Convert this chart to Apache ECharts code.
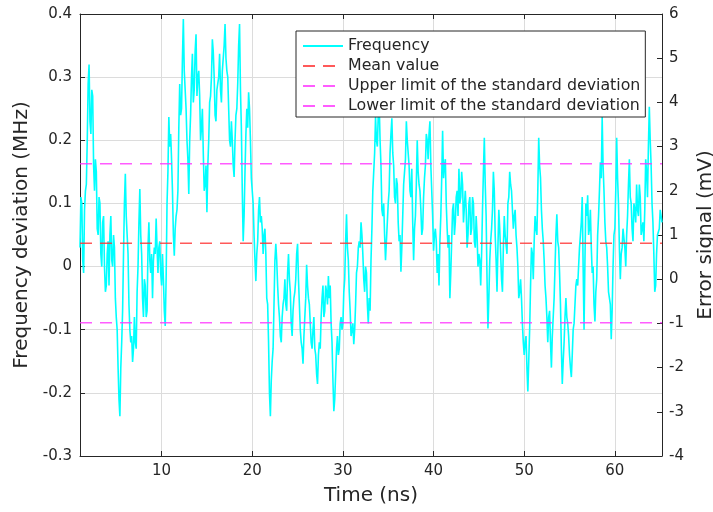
<!DOCTYPE html>
<html>
<head>
<meta charset="utf-8">
<script src="https://cdn.jsdelivr.net/npm/echarts@6/dist/echarts.min.js"></script>
<style>
html,body{margin:0;padding:0;background:#fff;}
#chart{width:713px;height:512px;}
</style>
</head>
<body>
<div id="chart"></div>
<script>
// ---- data ----
const timeStart = 1.0;      // ns, first sample
const timeStep = 0.1;       // ns, sample spacing
const timeMin = 1.0;
const timeMax = 65.2;
const freqValues = [
  0.03, 0.11, 0.10, 0.01, -0.01, 0.09, 0.12, 0.13, 0.20, 0.29, 0.32, 0.23, 0.21, 0.28, 0.27, 0.16, 0.12, 0.17, 0.15, 0.06,
  0.05, 0.11, 0.10, 0.02, 0.00, 0.07, 0.08, 0.00, -0.04, -0.03, 0.02, 0.04, -0.03, 0.05, 0.08, 0.01, 0.00, 0.05, 0.03, -0.05,
  -0.08, -0.10, -0.16, -0.21, -0.237, -0.16, -0.12, -0.07, 0.02, 0.10, 0.147, 0.08, 0.05, 0.02, -0.06, -0.10, -0.12, -0.11, -0.151, -0.13,
  -0.08, -0.12, -0.13, -0.04, 0.00, 0.07, 0.123, 0.05, 0.02, -0.05, -0.08, -0.02, -0.03, -0.08, -0.07, 0.03, 0.07, 0.01, -0.01, 0.02,
  -0.05, 0.01, 0.03, 0.02, 0.076, 0.03, -0.01, 0.03, 0.04, -0.01, -0.03, 0.02, -0.02, -0.07, -0.094, -0.02, 0.10, 0.15, 0.237, 0.19,
  0.21, 0.17, 0.12, 0.05, 0.017, 0.06, 0.08, 0.09, 0.12, 0.22, 0.289, 0.24, 0.25, 0.33, 0.392, 0.31, 0.28, 0.25, 0.20, 0.17,
  0.115, 0.20, 0.24, 0.30, 0.337, 0.26, 0.28, 0.34, 0.368, 0.27, 0.30, 0.31, 0.27, 0.20, 0.22, 0.25, 0.18, 0.12, 0.13, 0.16,
  0.086, 0.16, 0.20, 0.26, 0.27, 0.30, 0.36, 0.34, 0.30, 0.24, 0.23, 0.28, 0.29, 0.30, 0.337, 0.28, 0.26, 0.31, 0.33, 0.35,
  0.384, 0.33, 0.31, 0.30, 0.25, 0.20, 0.19, 0.23, 0.20, 0.16, 0.142, 0.20, 0.24, 0.25, 0.29, 0.35, 0.384, 0.28, 0.22, 0.12,
  0.04, 0.08, 0.15, 0.21, 0.25, 0.22, 0.276, 0.25, 0.20, 0.14, 0.12, 0.10, 0.05, 0.01, -0.023, 0.02, 0.04, 0.09, 0.11, 0.07,
  0.08, 0.06, 0.02, 0.05, 0.06, 0.02, -0.05, -0.06, -0.12, -0.20, -0.237, -0.18, -0.15, -0.13, -0.06, 0.01, 0.036, 0.01, -0.03, -0.06,
  -0.08, -0.11, -0.12, -0.08, -0.06, -0.05, -0.02, -0.06, -0.07, -0.01, 0.02, -0.02, -0.04, -0.09, -0.11, -0.07, -0.05, -0.04, -0.02, 0.02,
  0.036, -0.02, -0.06, -0.10, -0.12, -0.13, -0.154, -0.11, -0.08, -0.05, 0.003, -0.03, -0.05, -0.06, -0.09, -0.12, -0.13, -0.10, -0.08, -0.13,
  -0.14, -0.17, -0.186, -0.14, -0.12, -0.13, -0.08, -0.05, -0.03, -0.08, -0.07, -0.03, -0.04, -0.06, -0.015, -0.05, -0.03, -0.09, -0.12, -0.18,
  -0.229, -0.21, -0.17, -0.13, -0.11, -0.14, -0.13, -0.09, -0.08, -0.10, -0.09, -0.04, -0.02, 0.04, 0.083, 0.03, 0.01, -0.04, -0.07, -0.11,
  -0.10, -0.09, -0.123, -0.10, -0.06, -0.01, 0.00, 0.03, 0.04, 0.03, 0.07, 0.05, 0.02, -0.02, -0.04, 0.00, -0.01, -0.06, -0.09, -0.05,
  -0.07, 0.01, 0.06, 0.12, 0.15, 0.18, 0.237, 0.20, 0.19, 0.24, 0.26, 0.20, 0.16, 0.09, 0.08, 0.10, 0.05, 0.01, 0.012, 0.07,
  0.10, 0.12, 0.18, 0.21, 0.235, 0.18, 0.16, 0.11, 0.10, 0.14, 0.13, 0.07, 0.04, 0.05, -0.008, 0.03, 0.08, 0.13, 0.15, 0.17,
  0.23, 0.20, 0.18, 0.16, 0.12, 0.11, 0.155, 0.07, 0.01, 0.06, 0.08, 0.13, 0.20, 0.15, 0.13, 0.12, 0.09, 0.05, 0.06, 0.11,
  0.14, 0.16, 0.21, 0.20, 0.17, 0.21, 0.23, 0.16, 0.12, 0.08, 0.025, 0.05, 0.06, 0.04, -0.01, 0.02, -0.03, 0.04, 0.08, 0.14,
  0.215, 0.14, 0.16, 0.17, 0.10, 0.06, 0.03, 0.05, -0.05, -0.01, 0.04, 0.09, 0.10, 0.05, 0.07, 0.11, 0.12, 0.08, 0.155, 0.10,
  0.11, 0.15, 0.13, 0.07, 0.07, 0.12, 0.09, 0.03, 0.05, 0.10, 0.11, 0.05, 0.06, 0.11, 0.10, 0.04, 0.03, 0.08, 0.05, 0.00,
  0.02, 0.01, -0.03, 0.02, 0.09, 0.15, 0.204, 0.13, 0.08, -0.02, -0.098, -0.05, 0.01, 0.04, 0.06, 0.09, 0.15, 0.12, 0.05, 0.01,
  -0.04, 0.03, 0.09, 0.06, 0.02, -0.02, -0.04, 0.03, 0.08, 0.05, 0.05, 0.02, 0.10, 0.11, 0.15, 0.13, 0.12, 0.09, 0.06, 0.08,
  0.09, 0.05, 0.03, 0.00, -0.05, -0.04, -0.02, -0.05, -0.09, -0.12, -0.14, -0.12, -0.11, -0.16, -0.198, -0.15, -0.10, -0.03, 0.03, 0.02,
  -0.02, 0.04, 0.08, 0.06, 0.05, 0.12, 0.204, 0.16, 0.14, 0.09, 0.06, 0.04, 0.01, -0.03, -0.05, -0.08, -0.12, -0.08, -0.07, -0.12,
  -0.16, -0.11, -0.08, -0.05, 0.00, 0.05, 0.083, 0.04, 0.03, -0.01, -0.06, -0.13, -0.186, -0.15, -0.12, -0.08, -0.05, -0.08, -0.09, -0.11,
  -0.14, -0.16, -0.175, -0.14, -0.10, -0.09, -0.06, -0.03, -0.02, -0.03, 0.00, 0.03, 0.05, 0.07, 0.11, 0.00, -0.10, 0.01, 0.10, 0.08,
  0.113, 0.05, 0.06, 0.09, 0.03, -0.01, 0.00, -0.06, -0.087, -0.04, -0.02, 0.05, 0.08, 0.12, 0.165, 0.14, 0.237, 0.16, 0.12, 0.07,
  0.04, 0.03, 0.00, -0.04, -0.05, -0.06, -0.115, -0.07, 0.00, 0.05, 0.06, 0.12, 0.204, 0.14, 0.10, 0.03, -0.02, 0.02, 0.03, 0.06,
  0.06, 0.03, 0.00, 0.05, 0.08, 0.13, 0.17, 0.11, 0.10, 0.06, 0.04, 0.10, 0.09, 0.07, 0.13, 0.09, 0.08, 0.13, 0.11, 0.05,
  0.06, 0.07, 0.04, 0.09, 0.17, 0.15, 0.11, 0.19, 0.253, 0.20, 0.16, 0.10, 0.07, 0.02, -0.04, -0.03, 0.02, 0.05, 0.05, 0.06,
  0.09, 0.08, 0.07
];
const meanValue = 0.037;
const upperLimit = 0.163;
const lowerLimit = -0.089;
const xTicks = [10, 20, 30, 40, 50, 60];
const leftMin = -0.3, leftMax = 0.4, leftStep = 0.1;
const rightMin = -4, rightMax = 6, rightStep = 1;
const seriesNames = ['Frequency', 'Mean value', 'Upper limit of the standard deviation', 'Lower limit of the standard deviation'];

// ---- build ----
const freqData = freqValues.map((v, i) => [timeStart + i * timeStep, v]);
const hline = v => [[timeMin, v], [timeMax, v]];

const textColor = '#262626';
const font = 'DejaVu Sans';
const tickFont = 15;
const nameFont = 20;
const chart = echarts.init(document.getElementById('chart'), null, {renderer: 'canvas'});
const xAxisBase = {
  type: 'value', min: timeMin, max: timeMax,
  axisLine: {show: true, onZero: false, lineStyle: {color: textColor, width: 1}},
  axisTick: {show: true, inside: true, length: 5, customValues: xTicks, lineStyle: {color: textColor}},
  splitLine: {show: false}
};
chart.setOption({
  animation: false,
  textStyle: {fontFamily: font},
  grid: {left: 80, right: 51, top: 14, bottom: 56, containLabel: false, outerBoundsMode: 'none'},
  legend: {
    orient: 'vertical', left: 296, top: 31,
    backgroundColor: '#fff', borderColor: '#262626', borderWidth: 1, borderRadius: 0,
    padding: [7, 5, 3, 6], itemGap: 4, itemWidth: 40, itemHeight: 14,
    itemStyle: {opacity: 0},
    textStyle: {fontFamily: font, fontSize: 15.8, lineHeight: 16, color: textColor},
    data: seriesNames
  },
  xAxis: [
    Object.assign({}, xAxisBase, {
      position: 'bottom',
      name: 'Time (ns)', nameLocation: 'middle', nameGap: 30,
      nameTextStyle: {fontSize: nameFont, color: textColor, fontFamily: font},
      axisLabel: {show: true, customValues: xTicks, fontSize: tickFont, color: textColor, margin: 8, fontFamily: font},
      splitLine: {show: true, lineStyle: {color: '#dcdcdc', width: 1}}
    }),
    Object.assign({}, xAxisBase, {position: 'top', axisLabel: {show: false}})
  ],
  yAxis: [
    {
      type: 'value', min: leftMin, max: leftMax, interval: leftStep, position: 'left',
      name: 'Frequency deviation (MHz)', nameLocation: 'middle', nameGap: 48, nameRotate: 90,
      nameTextStyle: {fontSize: nameFont, color: textColor, fontFamily: font},
      axisLine: {show: true, onZero: false, lineStyle: {color: textColor}},
      axisTick: {show: true, inside: true, length: 5, lineStyle: {color: textColor}},
      axisLabel: {fontSize: tickFont, color: textColor, margin: 8, fontFamily: font,
        formatter: v => String(Math.round(v * 10) / 10)},
      splitLine: {show: true, lineStyle: {color: '#dcdcdc', width: 1}}
    },
    {
      type: 'value', min: rightMin, max: rightMax, interval: rightStep, position: 'right',
      name: 'Error signal (mV)', nameLocation: 'middle', nameGap: 34, nameRotate: 90,
      nameTextStyle: {fontSize: nameFont, color: textColor, fontFamily: font},
      axisLine: {show: true, onZero: false, lineStyle: {color: textColor}},
      axisTick: {show: true, inside: true, length: 5, lineStyle: {color: textColor}},
      axisLabel: {fontSize: tickFont, color: textColor, margin: 7, fontFamily: font},
      splitLine: {show: false}
    }
  ],
  series: [
    {name: seriesNames[0], type: 'line', data: freqData, showSymbol: false, symbol: 'none',
     lineStyle: {color: '#00ffff', width: 1.6}, itemStyle: {color: '#00ffff'}, z: 2},
    {name: seriesNames[1], type: 'line', data: hline(meanValue), showSymbol: false, symbol: 'none',
     lineStyle: {color: '#ff3030', width: 1.5, type: [12, 8], opacity: 0.8}, itemStyle: {color: '#ff0000'}, z: 3},
    {name: seriesNames[2], type: 'line', data: hline(upperLimit), showSymbol: false, symbol: 'none',
     lineStyle: {color: '#ff33ff', width: 1.5, type: [12, 8], opacity: 0.8}, itemStyle: {color: '#ff00ff'}, z: 3},
    {name: seriesNames[3], type: 'line', data: hline(lowerLimit), showSymbol: false, symbol: 'none',
     lineStyle: {color: '#ff33ff', width: 1.5, type: [12, 8], opacity: 0.8}, itemStyle: {color: '#ff00ff'}, z: 3}
  ]
});
</script>
</body>
</html>
